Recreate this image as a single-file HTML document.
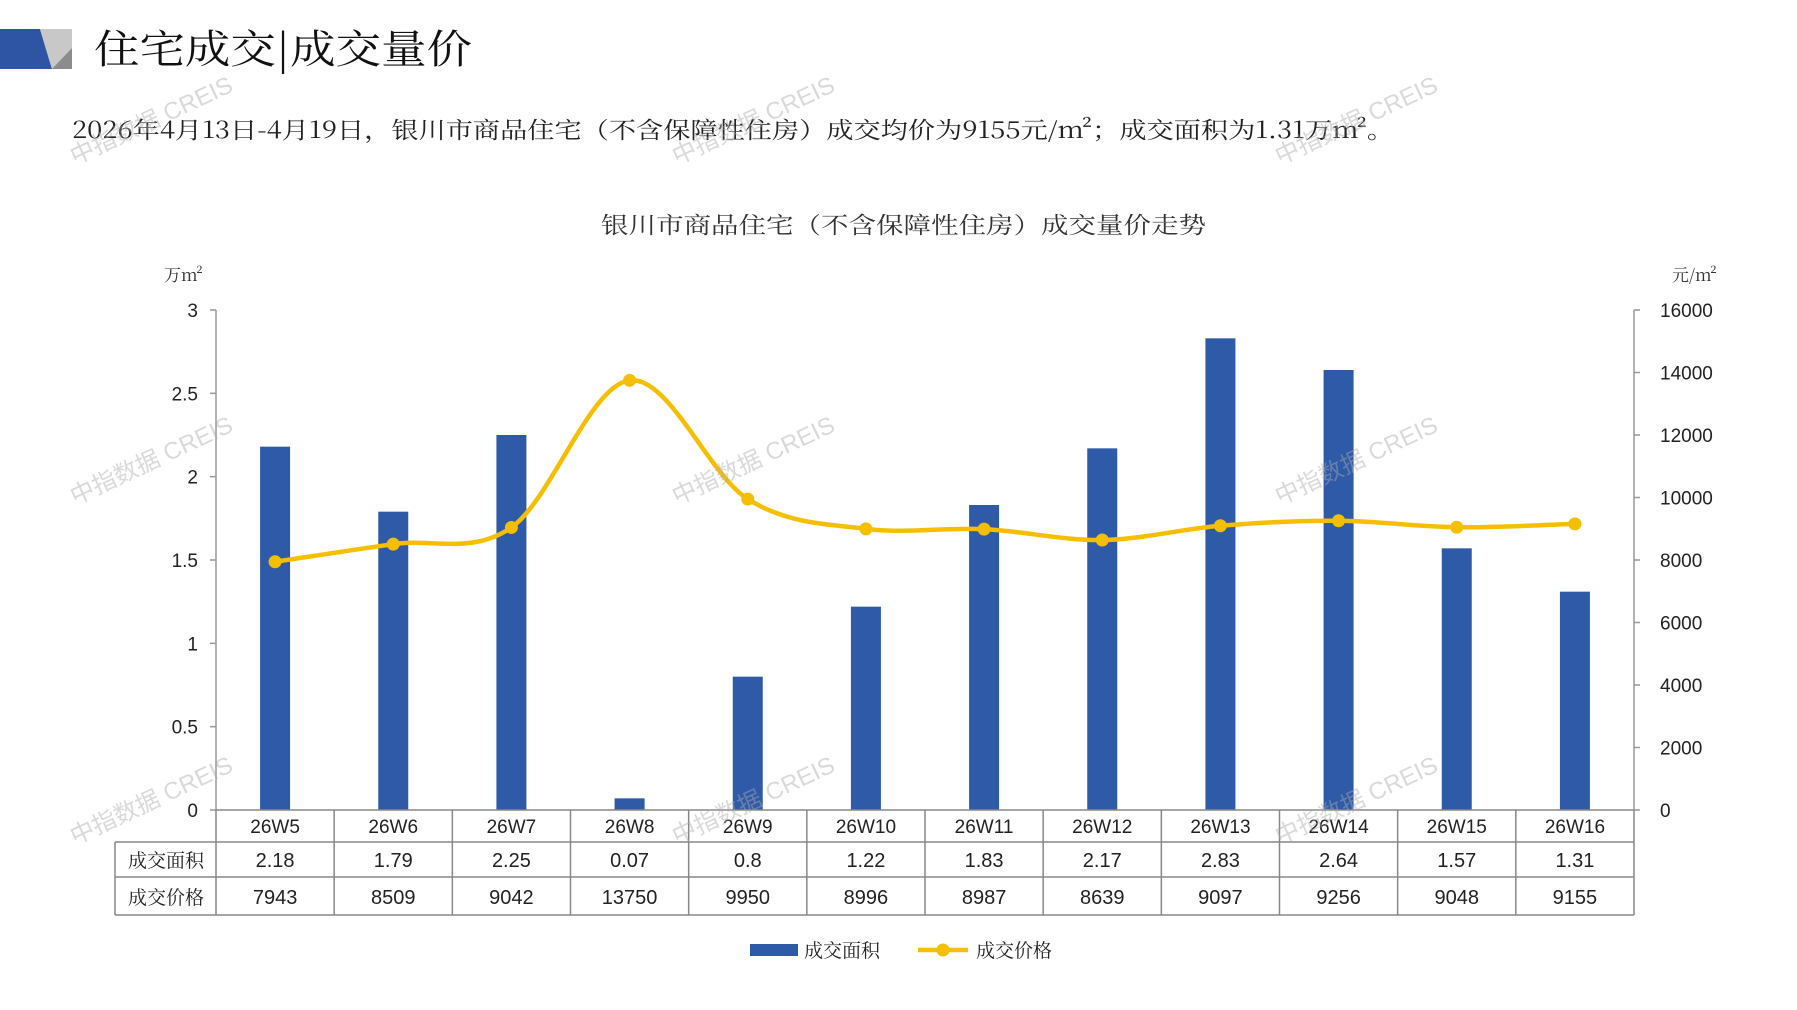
<!DOCTYPE html>
<html><head><meta charset="utf-8">
<style>
html,body{margin:0;padding:0;background:#fff;}
body{width:1797px;height:1010px;overflow:hidden;position:relative;}
svg{position:absolute;left:0;top:0;}
</style></head>
<body>
<svg id="s" width="1797" height="1010" xmlns="http://www.w3.org/2000/svg" font-family="'Liberation Sans','Noto Sans CJK SC',sans-serif">
<polygon points="0,29 40,29 52,69 0,69" fill="#2e55a4"/>
<polygon points="40,29 72,29 72,69 52,69" fill="#c8c8c8"/>
<polygon points="52,69 72,48 72,69" fill="#8c8c8c"/>
<text x="94" y="63" font-size="40" font-family="'Noto Serif CJK SC',serif" fill="#111" textLength="378" lengthAdjust="spacingAndGlyphs">住宅成交|成交量价</text>
<text x="72" y="138" font-size="23" font-family="'Noto Serif CJK SC',serif" fill="#222" textLength="1322" lengthAdjust="spacingAndGlyphs">2026年4月13日-4月19日，银川市商品住宅（不含保障性住房）成交均价为9155元/m²；成交面积为1.31万m²。</text>
<text x="601" y="233" font-size="23" font-family="'Noto Serif CJK SC',serif" fill="#333" textLength="605" lengthAdjust="spacingAndGlyphs">银川市商品住宅（不含保障性住房）成交量价走势</text>
<text x="164" y="281" font-size="17" font-family="'Noto Serif CJK SC',serif" fill="#333">万m²</text>
<text x="1672" y="281" font-size="17" font-family="'Noto Serif CJK SC',serif" fill="#333">元/m²</text>
<g id="g"></g>
</svg>
<script>
(function(){
var g=document.getElementById('g'),h='';
var x0=216,x1=1634,yt=310,zero=810,H=zero-yt,w=(x1-x0)/12;
var cats=['26W5','26W6','26W7','26W8','26W9','26W10','26W11','26W12','26W13','26W14','26W15','26W16'];
var area=[2.18,1.79,2.25,0.07,0.8,1.22,1.83,2.17,2.83,2.64,1.57,1.31];
var areaS=['2.18','1.79','2.25','0.07','0.8','1.22','1.83','2.17','2.83','2.64','1.57','1.31'];
var price=[7943,8509,9042,13750,9950,8996,8987,8639,9097,9256,9048,9155];
h+='<line x1="'+x0+'" y1="'+yt+'" x2="'+x0+'" y2="'+zero+'" stroke="#999" stroke-width="1.5"/>';
h+='<line x1="'+x1+'" y1="'+yt+'" x2="'+x1+'" y2="'+zero+'" stroke="#999" stroke-width="1.5"/>';
for(var i=0;i<=6;i++){var y=zero-H*i/6;
 h+='<line x1="'+(x0-6)+'" y1="'+y+'" x2="'+x0+'" y2="'+y+'" stroke="#999" stroke-width="1.5"/>';
 h+='<text x="198" y="'+(y+7)+'" font-size="19" text-anchor="end" fill="#222">'+(i*0.5)+'</text>';}
for(var i=0;i<=8;i++){var y=zero-H*i/8;
 h+='<line x1="'+x1+'" y1="'+y+'" x2="'+(x1+6)+'" y2="'+y+'" stroke="#999" stroke-width="1.5"/>';
 h+='<text x="1660" y="'+(y+7)+'" font-size="19" fill="#222">'+(i*2000)+'</text>';}
for(var i=0;i<12;i++){var cx=x0+w*(i+.5),bh=area[i]/3*H;
 h+='<rect x="'+(cx-15)+'" y="'+(zero-bh)+'" width="30" height="'+bh+'" fill="#2e5aa8"/>';}
var P=price.map(function(p,i){return [x0+w*(i+.5),zero-p/16000*H];});
var d='M'+P[0][0]+','+P[0][1];
for(var i=0;i<P.length-1;i++){var p0=P[i-1]||P[i],p1=P[i],p2=P[i+1],p3=P[i+2]||p2,t=6;
 d+=' C'+(p1[0]+(p2[0]-p0[0])/t)+','+(p1[1]+(p2[1]-p0[1])/t)+' '+(p2[0]-(p3[0]-p1[0])/t)+','+(p2[1]-(p3[1]-p1[1])/t)+' '+p2[0]+','+p2[1];}
h+='<path d="'+d+'" fill="none" stroke="#f5bf00" stroke-width="4.5"/>';
P.forEach(function(p){h+='<circle cx="'+p[0]+'" cy="'+p[1]+'" r="6.5" fill="#f5bf00"/>';});
var rows=[810,842,877,915],lx=115;
h+='<line x1="'+x0+'" y1="810" x2="'+x1+'" y2="810" stroke="#888" stroke-width="1.5"/>';
for(var r=1;r<4;r++) h+='<line x1="'+lx+'" y1="'+rows[r]+'" x2="'+x1+'" y2="'+rows[r]+'" stroke="#888" stroke-width="1.5"/>';
h+='<line x1="'+lx+'" y1="842" x2="'+lx+'" y2="915" stroke="#888" stroke-width="1.5"/>';
for(var i=0;i<=12;i++){var x=x0+w*i;h+='<line x1="'+x+'" y1="810" x2="'+x+'" y2="915" stroke="#888" stroke-width="1.5"/>';}
var nf="'Liberation Sans Narrow','Liberation Sans',sans-serif";
for(var i=0;i<12;i++){var cx=x0+w*(i+.5);
 h+='<text x="'+cx+'" y="833" font-size="19" text-anchor="middle" font-family="'+nf+'" fill="#222">'+cats[i]+'</text>';
 h+='<text x="'+cx+'" y="867" font-size="20" text-anchor="middle" font-family="'+nf+'" fill="#222">'+areaS[i]+'</text>';
 h+='<text x="'+cx+'" y="904" font-size="20" text-anchor="middle" font-family="'+nf+'" fill="#222">'+price[i]+'</text>';}
h+='<text x="166" y="867" font-size="19" text-anchor="middle" font-family="\'Noto Serif CJK SC\',serif" fill="#222">成交面积</text>';
h+='<text x="166" y="904" font-size="19" text-anchor="middle" font-family="\'Noto Serif CJK SC\',serif" fill="#222">成交价格</text>';
h+='<rect x="750" y="944" width="48" height="12" fill="#2e5aa8"/>';
h+='<text x="804" y="957" font-size="19" font-family="\'Noto Serif CJK SC\',serif" fill="#222">成交面积</text>';
h+='<line x1="918" y1="950" x2="968" y2="950" stroke="#f5bf00" stroke-width="4.5"/><circle cx="943" cy="950" r="6.5" fill="#f5bf00"/>';
h+='<text x="976" y="957" font-size="19" font-family="\'Noto Serif CJK SC\',serif" fill="#222">成交价格</text>';
[[75,165],[677,165],[1280,165],[75,505],[677,505],[1280,505],[75,845],[677,845],[1280,845]].forEach(function(p){
 h+='<text x="'+p[0]+'" y="'+p[1]+'" font-size="24" fill="#aaa" fill-opacity="0.45" transform="rotate(-25 '+p[0]+' '+p[1]+')">中指数据 CREIS</text>';});
g.innerHTML=h;
})();
</script>
</body></html>
